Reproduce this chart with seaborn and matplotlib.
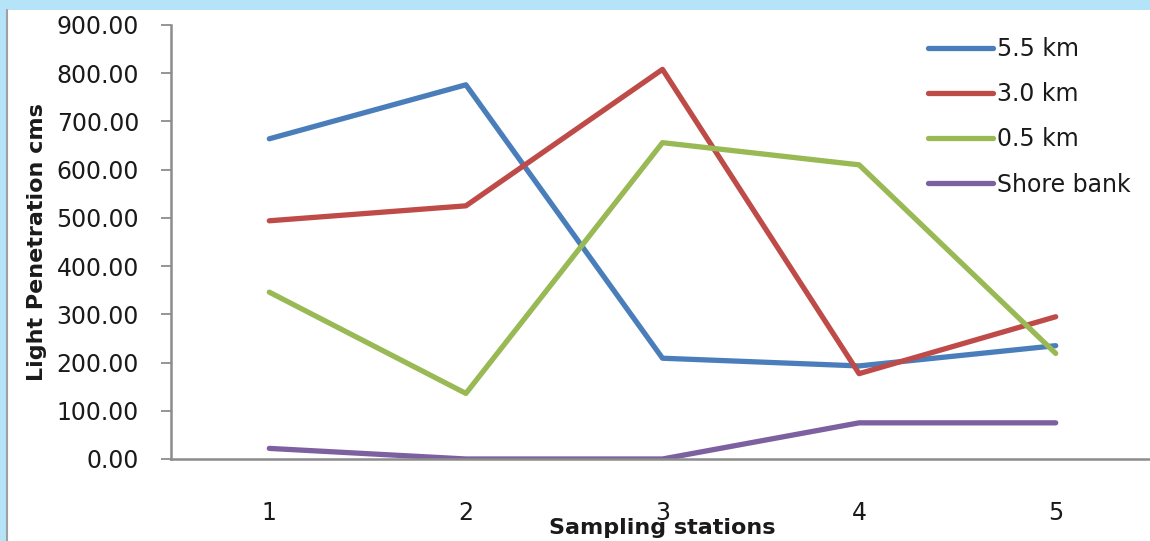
import matplotlib
matplotlib.use("Agg")
import matplotlib.pyplot as plt
import seaborn as sns
import pandas as pd
from matplotlib.patches import Rectangle
from matplotlib.lines import Line2D
from matplotlib.ticker import FormatStrFormatter

# Light penetration (cm) at each sampling station, by distance from shore
stations = [1, 2, 3, 4, 5]
series_names = ["5.5 km", "3.0 km", "0.5 km", "Shore bank"]
km_5_5 = [664, 776, 209, 193, 235]
km_3_0 = [494, 525, 808, 177, 295]
km_0_5 = [346, 136, 656, 610, 219]
shore_bank = [22, 0, 0, 75, 75]
y_ticks = [0, 100, 200, 300, 400, 500, 600, 700, 800, 900]

colors = ["#4a7ebb", "#be4b48", "#98b954", "#7d60a0"]

rows = []
for name, vals in zip(series_names, [km_5_5, km_3_0, km_0_5, shore_bank]):
    for s, v in zip(stations, vals):
        rows.append({"station": s, "value": v, "series": name})
df = pd.DataFrame(rows)

sns.set_style("white")
plt.rcParams["font.family"] = ["DejaVu Sans"]

W, H = 1150, 541
fig = plt.figure(figsize=(W / 100, H / 100), dpi=100)
fig.patch.set_facecolor("white")

# light blue frame strips at the top and left edges
fig.add_artist(Rectangle((0, 1 - 10 / H), 1, 10 / H, transform=fig.transFigure,
                         facecolor="#b5e3f8", edgecolor="none", zorder=0))
fig.add_artist(Rectangle((0, 0), 6 / W, 1 - 10 / H, transform=fig.transFigure,
                         facecolor="#b5e3f8", edgecolor="none", zorder=0))
fig.add_artist(Line2D([7 / W, 7 / W], [0, 1 - 10 / H], transform=fig.transFigure,
                      color="#a0a0a0", lw=1.5))

ax_left, ax_right, ax_top, ax_bottom = 171, 1154, 25, 459
ax = fig.add_axes([ax_left / W, 1 - ax_bottom / H,
                   (ax_right - ax_left) / W, (ax_bottom - ax_top) / H])

sns.lineplot(data=df, x="station", y="value", hue="series", hue_order=series_names,
             palette=colors, linewidth=3.8, ax=ax, legend=False, sort=False)

ax.set_xlim(0.5, 5.5)
ax.set_ylim(0, 900)
ax.set_yticks(y_ticks)
ax.yaxis.set_major_formatter(FormatStrFormatter("%.2f"))
ax.set_xticks(stations)
ax.set_xticklabels([str(s) for s in stations])

for side in ["top", "right"]:
    ax.spines[side].set_visible(False)
for side in ["left", "bottom"]:
    ax.spines[side].set_color("#8c8c8c")
    ax.spines[side].set_linewidth(1.8)

text_color = "#1a1a1a"
ax.tick_params(axis="y", which="major", direction="out", length=7, width=1.3,
               color="#8c8c8c", left=True, labelsize=17, pad=16, labelcolor=text_color)
ax.tick_params(axis="x", which="major", length=0, labelsize=17, pad=30,
               labelcolor=text_color)

ax.set_xlabel("Sampling stations", fontsize=16, fontweight="bold", labelpad=-5,
              color=text_color)
ax.set_ylabel("Light Penetration cms", fontsize=16, fontweight="bold", labelpad=7,
              color=text_color)

handles = [Line2D([0], [0], color=c, lw=3.8, solid_capstyle="round") for c in colors]
leg = ax.legend(handles, series_names, loc="upper left",
                bbox_to_anchor=((928 - ax_left) / (ax_right - ax_left),
                                (ax_bottom - 37) / (ax_bottom - ax_top)),
                frameon=False, fontsize=17, handlelength=2.75, handletextpad=0.17,
                labelspacing=0.9, borderaxespad=0, borderpad=0)
for t in leg.get_texts():
    t.set_color(text_color)

fig.savefig("out.png", dpi=100)
